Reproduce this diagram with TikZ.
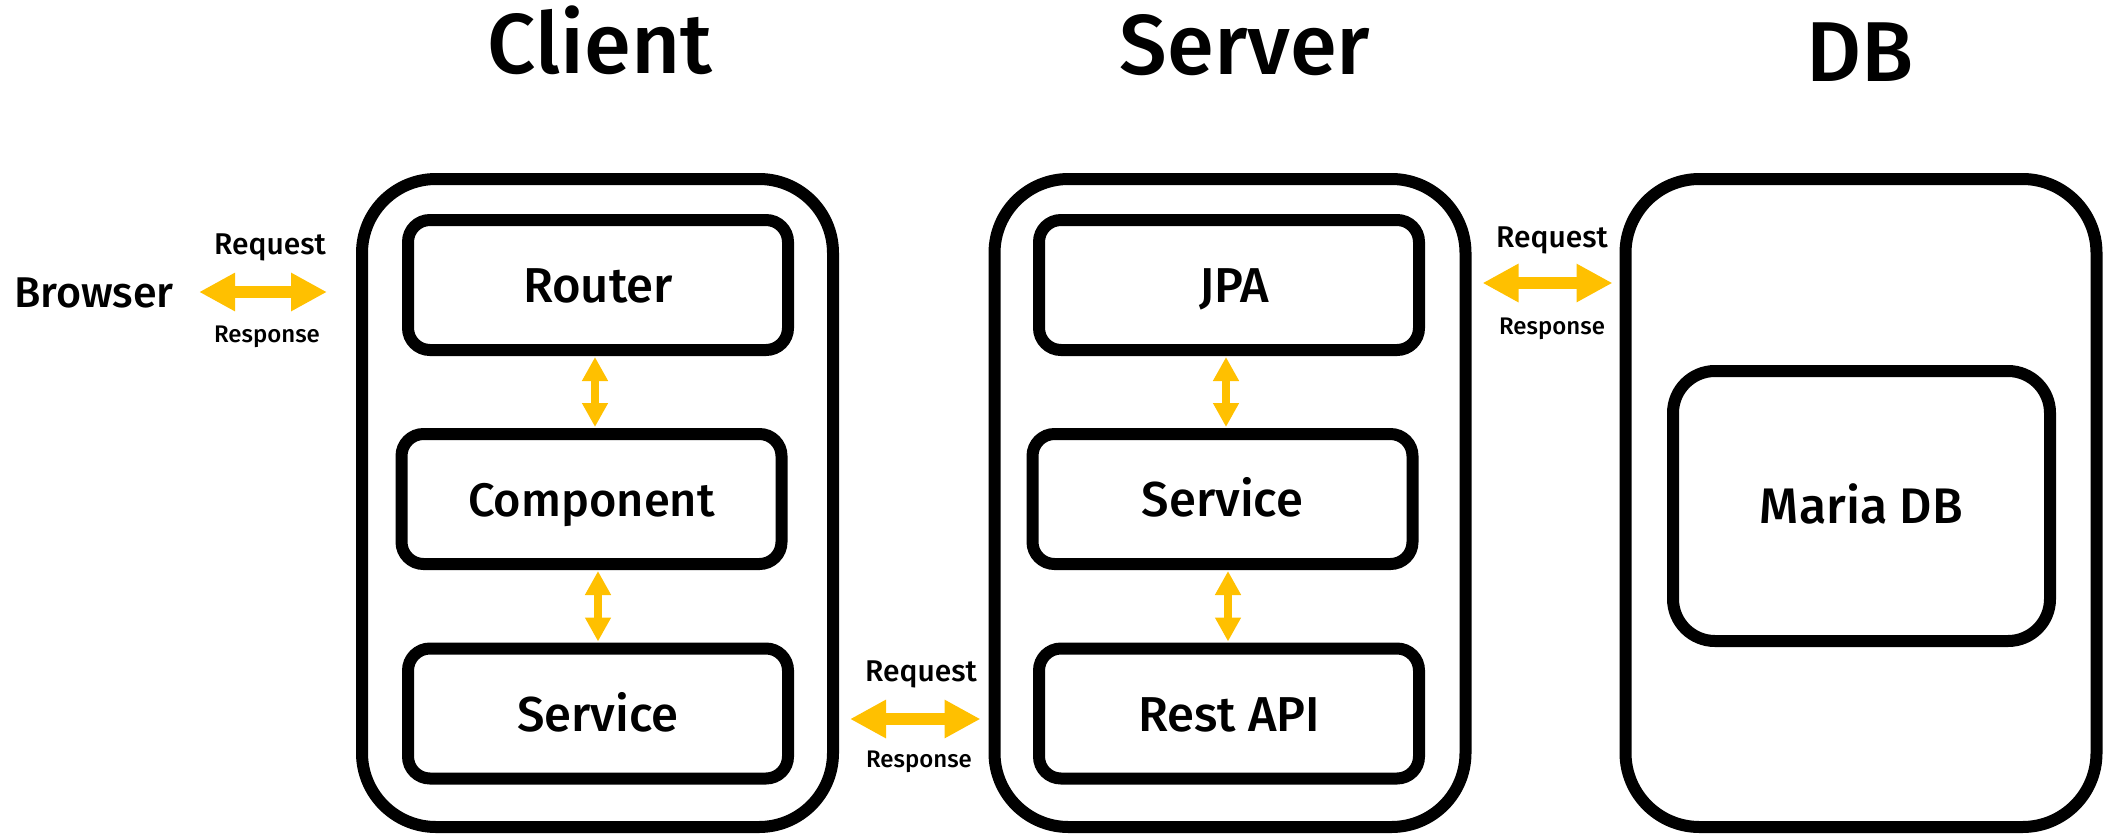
\documentclass[tikz,border=0pt]{standalone}
\usepackage{fontspec}
\setmainfont{Fira Sans}[UprightFont=* Medium]
\usetikzlibrary{arrows.meta}
\definecolor{amber}{RGB}{255,192,0}
\tikzset{
 px/.style={x=1pt,y=-1pt},
 txt/.style={inner sep=0,text depth=0pt,anchor=center},
 outerbox/.style={draw=black,line width=12pt,rounded corners=74pt,minimum width=471pt,minimum height=648pt,inner sep=0},
 innerbox/.style={draw=black,line width=12pt,rounded corners=22pt,minimum width=380pt,minimum height=130pt,inner sep=0,text height=35pt,text depth=0pt,font=\fontsize{49}{49}\selectfont},
 dbbox/.style={innerbox,rounded corners=42pt,minimum width=377pt,minimum height=270pt,font=\fontsize{50}{50}\selectfont},
 title/.style={txt,text height=60pt,font=\fontsize{85}{85}\selectfont},
 plain/.style={txt,text height=31pt,font=\fontsize{43}{43}\selectfont},
 reqlabel/.style={txt,text height=22pt,font=\fontsize{30}{30}\selectfont},
 resplabel/.style={txt,text height=17.5pt,font=\fontsize{24}{24}\selectfont},
 hflow/.style={draw=amber,line width=12pt,{Triangle[length=36pt,width=36pt]}-{Triangle[length=36pt,width=36pt]}},
 vflow/.style={draw=amber,line width=7.6pt,{Triangle[length=24pt,width=24.5pt]}-{Triangle[length=24pt,width=24.5pt]}},
}
\begin{document}
\begin{tikzpicture}[px]
\useasboundingbox (0,0) rectangle (2104,833);
\node[outerbox] (cl) at (597.5,503) {};
\node[outerbox] (se) at (1230,503) {};
\node[outerbox] (db) at (1861,503) {};
\node[title] (tc) at (600,43) {Client};
\node[title] (ts) at (1245,44) {Server};
\node[title] (td) at (1860,51) {DB};
\node[innerbox] (a1) at (598,285) {Router};
\node[innerbox,font=\fontsize{47}{47}\selectfont] (a2) at (591.5,499) {Component};
\node[innerbox] (a3) at (598,713.5) {Service};
\node[innerbox] (b1) at (1229,285) {\hspace{10pt}JPA};
\node[innerbox] (b2) at (1222.5,499) {Service};
\node[innerbox] (b3) at (1229,713.5) {Rest API};
\node[dbbox] (c1) at (1861.5,506) {Maria DB};
\node[plain] (br) at (94,292) {Browser};
\node[reqlabel] (r1) at (270,243) {Request};
\node[resplabel] (s1) at (267,334) {Response};
\node[reqlabel] (r2) at (921,670) {Request};
\node[resplabel] (s2) at (919,759) {Response};
\node[reqlabel] (r3) at (1552,236) {Request};
\node[resplabel] (s3) at (1552,326) {Response};
\coordinate (ya) at (0,292);
\coordinate (yb) at (0,719);
\coordinate (yc) at (0,283);
\coordinate (xa) at (595,0);
\coordinate (xb) at (598,0);
\coordinate (xc) at (1226,0);
\coordinate (xd) at (1228,0);
\draw[hflow,shorten <=25pt,shorten >=29pt] (br.east) -- (cl.west |- ya);
\draw[hflow,shorten <=11pt,shorten >=8pt] (cl.east |- yb) -- (se.west |- yb);
\draw[hflow,shorten <=11pt,shorten >=7pt] (se.east |- yc) -- (db.west |- yc);
\draw[vflow,shorten <=1pt,shorten >=1pt] (xa |- a1.south) -- (xa |- a2.north);
\draw[vflow,shorten <=1pt,shorten >=1pt] (xb |- a2.south) -- (xb |- a3.north);
\draw[vflow,shorten <=1pt,shorten >=1pt] (xc |- b1.south) -- (xc |- b2.north);
\draw[vflow,shorten <=1pt,shorten >=1pt] (xd |- b2.south) -- (xd |- b3.north);
\end{tikzpicture}
\end{document}
